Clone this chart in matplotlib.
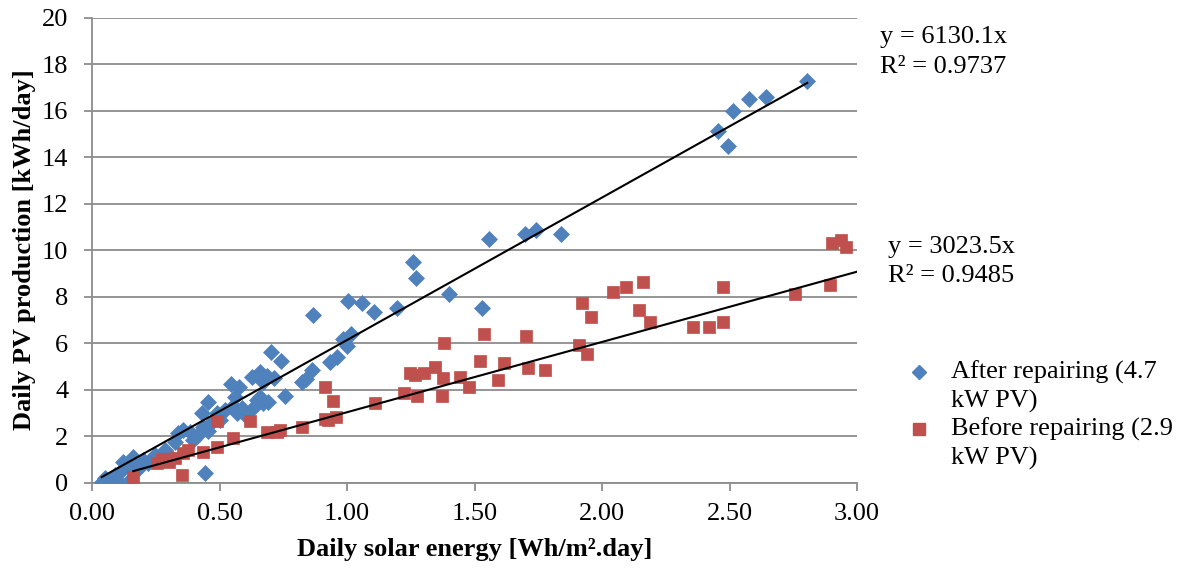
import numpy as np
import matplotlib
matplotlib.use("Agg")
import matplotlib.pyplot as plt
from matplotlib.lines import Line2D

# Daily solar energy (x) and PV production (y) after repairing the array
after_x = [0.038, 0.05, 0.07, 0.09, 0.11, 0.11, 0.123, 0.149, 0.149, 0.162, 0.175, 0.18,
           0.20, 0.22, 0.247, 0.26, 0.286, 0.30, 0.325, 0.338, 0.358, 0.384, 0.397, 0.41,
           0.43, 0.437, 0.443, 0.456, 0.456, 0.47, 0.489, 0.50, 0.52, 0.545, 0.554, 0.561,
           0.567, 0.575, 0.59, 0.60, 0.626, 0.633, 0.646, 0.659, 0.659, 0.669, 0.671, 0.688,
           0.691, 0.702, 0.715, 0.74, 0.757, 0.822, 0.839, 0.864, 0.866, 0.933, 0.96, 0.983,
           0.999, 1.005, 1.016, 1.058, 1.107, 1.195, 1.26, 1.27, 1.401, 1.528, 1.557, 1.698,
           1.742, 1.839, 2.454, 2.493, 2.515, 2.576, 2.643, 2.805]
after_y = [0.03, 0.18, 0.03, 0.32, 0.0, 0.47, 0.9, 0.11, 0.61, 1.11, 0.75, 0.6,
           0.97, 0.85, 1.18, 1.0, 1.4, 1.2, 1.76, 2.12, 2.26, 2.19, 1.83, 2.0,
           2.98, 2.4, 0.42, 3.48, 2.2, 2.6, 2.98, 2.7, 3.1, 4.22, 3.3, 3.69,
           3.0, 4.1, 3.2, 2.9, 4.55, 3.19, 3.55, 4.77, 3.69, 4.34, 3.41, 4.58,
           3.48, 5.6, 4.51, 5.23, 3.74, 4.34, 4.44, 4.84, 7.2, 5.2, 5.39, 6.16,
           5.87, 7.81, 6.38, 7.71, 7.34, 7.5, 9.47, 8.81, 8.11, 7.5, 10.46, 10.68,
           10.88, 10.69, 15.12, 14.49, 15.99, 16.5, 16.6, 17.28]

# Daily solar energy (x) and PV production (y) before repairing the array
before_x = [0.162, 0.254, 0.273, 0.28, 0.30, 0.325, 0.352, 0.358, 0.378, 0.437, 0.489, 0.489,
            0.554, 0.62, 0.685, 0.724, 0.737, 0.822, 0.914, 0.914, 0.925, 0.944, 0.957, 1.111,
            1.224, 1.248, 1.267, 1.273, 1.302, 1.345, 1.374, 1.378, 1.38, 1.443, 1.48, 1.522,
            1.538, 1.594, 1.616, 1.702, 1.708, 1.776, 1.911, 1.92, 1.942, 1.957, 2.044, 2.094,
            2.145, 2.161, 2.19, 2.358, 2.421, 2.473, 2.476, 2.757, 2.894, 2.90, 2.936, 2.956]
before_y = [0.25, 0.83, 1.0, 0.97, 0.9, 1.04, 0.32, 1.26, 1.4, 1.33, 1.54, 2.66,
            1.9, 2.66, 2.19, 2.19, 2.26, 2.4, 4.12, 2.72, 2.69, 3.52, 2.83, 3.43,
            3.84, 4.73, 4.63, 3.72, 4.73, 4.96, 3.72, 4.48, 6.02, 4.55, 4.12, 5.23,
            6.39, 4.41, 5.13, 6.30, 4.93, 4.84, 5.92, 7.74, 5.53, 7.11, 8.21, 8.43,
            7.42, 8.61, 6.91, 6.71, 6.71, 8.43, 6.91, 8.11, 8.51, 10.32, 10.43, 10.12]

# Linear fits through the origin (coefficients quoted per kWh, axis in Wh)
after_slope, after_r2 = 6130.1, 0.9737
before_slope, before_r2 = 3023.5, 0.9485
unit_scale = 1000.0

x_ticks = [0.0, 0.5, 1.0, 1.5, 2.0, 2.5, 3.0]
y_ticks = [0, 2, 4, 6, 8, 10, 12, 14, 16, 18, 20]

BLUE = "#4F81BD"
RED = "#C0504D"
GRID = "#8C8C8C"
DIAMOND_SIZE = 8.3
SQUARE_SIZE = 9.0

plt.rcParams["font.family"] = ["Liberation Serif", "DejaVu Serif"]

W, H = 1181, 569
fig = plt.figure(figsize=(W / 100, H / 100), dpi=100)
fig.patch.set_facecolor("white")
ax = fig.add_axes([92 / W, 1 - 482.5 / H, (857 - 92) / W, (482.5 - 17.7) / H])

ax.plot(after_x, after_y, linestyle="none", marker="D", markersize=DIAMOND_SIZE,
        color=BLUE, markeredgecolor=BLUE, markeredgewidth=0.5, zorder=3)
ax.plot(before_x, before_y, linestyle="none", marker="s", markersize=SQUARE_SIZE,
        color=RED, markeredgecolor=RED, markeredgewidth=0.5, zorder=4)

xa = np.linspace(min(after_x), max(after_x), 50)
ax.plot(xa, after_slope / unit_scale * xa, color="black", lw=1.5, zorder=5)
xb = np.linspace(min(before_x), x_ticks[-1], 50)
ax.plot(xb, before_slope / unit_scale * xb, color="black", lw=1.5, zorder=5)

ax.set_xlim(x_ticks[0], x_ticks[-1])
ax.set_ylim(y_ticks[0], y_ticks[-1])
ax.set_xticks(x_ticks)
ax.set_xticklabels([f"{v:.2f}" for v in x_ticks])
ax.set_yticks(y_ticks)
ax.set_yticklabels([str(v) for v in y_ticks])

ax.grid(axis="y", color=GRID, lw=1.3)
ax.set_axisbelow(True)
for side in ("top", "right"):
    ax.spines[side].set_visible(False)
for side in ("left", "bottom"):
    ax.spines[side].set_color(GRID)
    ax.spines[side].set_linewidth(1.3)
ax.tick_params(axis="both", direction="out", length=6, width=1.3, color=GRID,
               labelsize=19, labelcolor="black")
ax.tick_params(axis="y", pad=11)
ax.tick_params(axis="x", pad=9)

ax.set_xlabel("Daily solar energy [Wh/m².day]", fontsize=19, fontweight="bold", labelpad=9)
ax.set_ylabel("Daily PV production [kWh/day]", fontsize=19, fontweight="bold", labelpad=4)

# Trendline equations
def px(x, y):
    return x / W, 1 - y / H

fig.text(*px(880, 37), f"y = {after_slope:.1f}x", fontsize=19, va="center", ha="left")
fig.text(*px(880, 67), f"R² = {after_r2:.4f}", fontsize=19, va="center", ha="left")
fig.text(*px(888, 247), f"y = {before_slope:.1f}x", fontsize=19, va="center", ha="left")
fig.text(*px(888, 276), f"R² = {before_r2:.4f}", fontsize=19, va="center", ha="left")

# Legend entries with wrapped labels
legend_items = [
    (BLUE, "D", 7.5, "After repairing (4.7", "kW PV)", 372),
    (RED, "s", 8.6, "Before repairing (2.9", "kW PV)", 429),
]
for color, marker, size, line1, line2, yc in legend_items:
    fig.add_artist(Line2D([919 / W], [1 - yc / H], marker=marker, markersize=size,
                          color=color, linestyle="none", transform=fig.transFigure))
    fig.text(*px(951, yc), line1, fontsize=19, va="center", ha="left")
    fig.text(*px(951, yc + 29), line2, fontsize=19, va="center", ha="left")

fig.savefig("out.png", dpi=100, facecolor="white")
